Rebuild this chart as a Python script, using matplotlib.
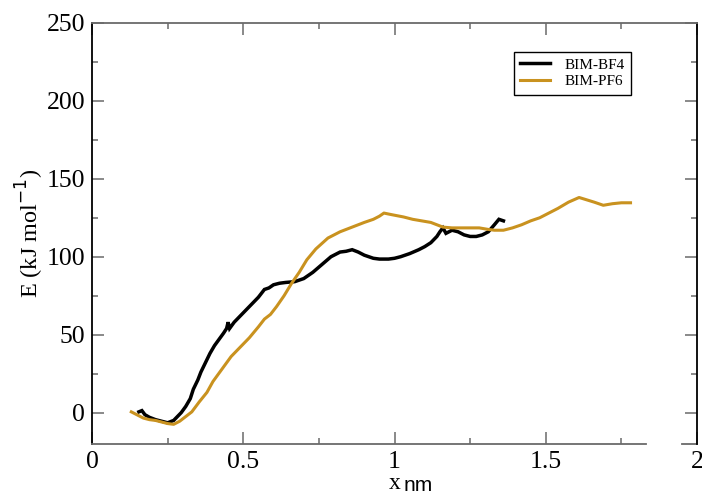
import matplotlib
matplotlib.use("Agg")
import matplotlib.pyplot as plt
from matplotlib.ticker import MultipleLocator

# ---- data ----
bf4_x = [0.155, 0.165, 0.175, 0.19, 0.21, 0.23, 0.25, 0.27, 0.28, 0.295, 0.31, 0.325,
         0.335, 0.35, 0.36, 0.375, 0.39, 0.405, 0.42, 0.435, 0.445, 0.45, 0.455, 0.47,
         0.49, 0.51, 0.53, 0.55, 0.57, 0.585, 0.60, 0.62, 0.64, 0.67, 0.70, 0.73, 0.76,
         0.79, 0.82, 0.84, 0.86, 0.88, 0.90, 0.93, 0.95, 0.98, 1.00, 1.02, 1.05, 1.08,
         1.10, 1.12, 1.14, 1.15, 1.16, 1.17, 1.19, 1.21, 1.23, 1.25, 1.27, 1.29, 1.31,
         1.33, 1.345, 1.36]
bf4_y = [0.5, 1.3, -1.3, -3, -4.5, -5.5, -6.5, -5, -3, 0, 4, 9,
         15, 21, 26, 32, 38, 43, 47, 51, 54, 58, 54, 58,
         62, 66, 70, 74, 79, 80, 82, 83, 83.5, 84, 86, 90, 95,
         100, 103, 103.5, 104.5, 103, 101, 99, 98.5, 98.5, 99, 100, 102, 104.5,
         106.5, 109, 113, 116, 118.5, 115, 117, 116, 114, 113, 113, 114, 116,
         120.5, 124, 123]

pf6_x = [0.13, 0.15, 0.17, 0.19, 0.21, 0.23, 0.25, 0.27, 0.29, 0.31, 0.33, 0.355,
         0.38, 0.40, 0.43, 0.46, 0.49, 0.52, 0.55, 0.57, 0.59, 0.61, 0.635, 0.66,
         0.685, 0.71, 0.74, 0.78, 0.82, 0.86, 0.90, 0.93, 0.95, 0.965, 0.99, 1.03,
         1.06, 1.09, 1.12, 1.16, 1.19, 1.22, 1.25, 1.28, 1.31, 1.33, 1.36, 1.39,
         1.42, 1.45, 1.48, 1.51, 1.54, 1.575, 1.61, 1.635, 1.66, 1.69, 1.72, 1.75, 1.78]
pf6_y = [0.5, -1.5, -3.5, -4.5, -5, -6, -7, -7.5, -5.5, -2.5, 0.5, 7,
         13, 20, 28, 36, 42, 48, 55, 60, 63, 68, 75, 83,
         90, 98, 105, 112, 116, 119, 122, 124, 126, 128, 127, 125.5,
         124, 123, 122, 119, 118.5, 118.5, 118.5, 118.5, 117.5, 117, 117, 118.5,
         120.5, 123, 125, 128, 131, 135, 138, 136.5, 135, 133, 134, 134.6, 134.6]

series_labels = ["BIM-BF4", "BIM-PF6"]
x_ticks = [0, 0.5, 1, 1.5, 2]
x_tick_labels = ["0", "0.5", "1", "1.5", "2"]
y_ticks = [0, 50, 100, 150, 200, 250]

serif = ["Liberation Serif", "DejaVu Serif"]
gold = "#C9921F"
gray = "#6a6a6a"

fig = plt.figure(figsize=(7.02, 4.97), dpi=100)
ax = fig.add_axes([0.131, 0.107, 0.862, 0.847])

ax.plot(bf4_x, bf4_y, color="black", lw=2.5, label=series_labels[0], solid_joinstyle="miter")
ax.plot(pf6_x, pf6_y, color=gold, lw=2.2, label=series_labels[1])

ax.set_xlim(0, 2)
ax.set_ylim(-20, 250)
ax.set_xticks(x_ticks)
ax.set_xticklabels(x_tick_labels)
ax.set_yticks(y_ticks)
ax.xaxis.set_minor_locator(MultipleLocator(0.25))
ax.yaxis.set_minor_locator(MultipleLocator(25))

ax.tick_params(which="both", direction="in", top=True, right=True,
               color=gray, width=1.1)
ax.tick_params(which="major", length=8.5, pad=5)
ax.tick_params(which="minor", length=4.5)
for lab in ax.get_xticklabels() + ax.get_yticklabels():
    lab.set_family(serif)
    lab.set_fontsize(18.5)

ax.spines["left"].set_color("black")
ax.spines["right"].set_color("black")
ax.spines["top"].set_color(gray)
ax.spines["bottom"].set_color(gray)
for s in ax.spines.values():
    s.set_linewidth(1.3)
ax.spines["bottom"].set_bounds(0, 1.83)
ax.axhline(-20, xmin=0.975, xmax=1.0, color=gray, lw=1.3, clip_on=False)

ax.set_ylabel("E (kJ mol$^{-1}$)", family=serif, fontsize=17.5, labelpad=0)
ax.text(0.5, -0.094, "x", transform=ax.transAxes, family=serif, fontsize=17,
        ha="center", va="center")
ax.text(0.515, -0.1, "nm", transform=ax.transAxes, family=["Liberation Sans", "DejaVu Sans"],
        fontsize=15, ha="left", va="center")

leg = ax.legend(loc="upper left", bbox_to_anchor=(0.697, 0.931), prop={"family": serif, "size": 11},
                frameon=True, fancybox=False, edgecolor="black", framealpha=1,
                handlelength=2.0, handletextpad=0.9, borderpad=0.4, labelspacing=0.2,
                borderaxespad=0)
leg.get_frame().set_linewidth(1.0)

fig.savefig("out.png", dpi=100)
